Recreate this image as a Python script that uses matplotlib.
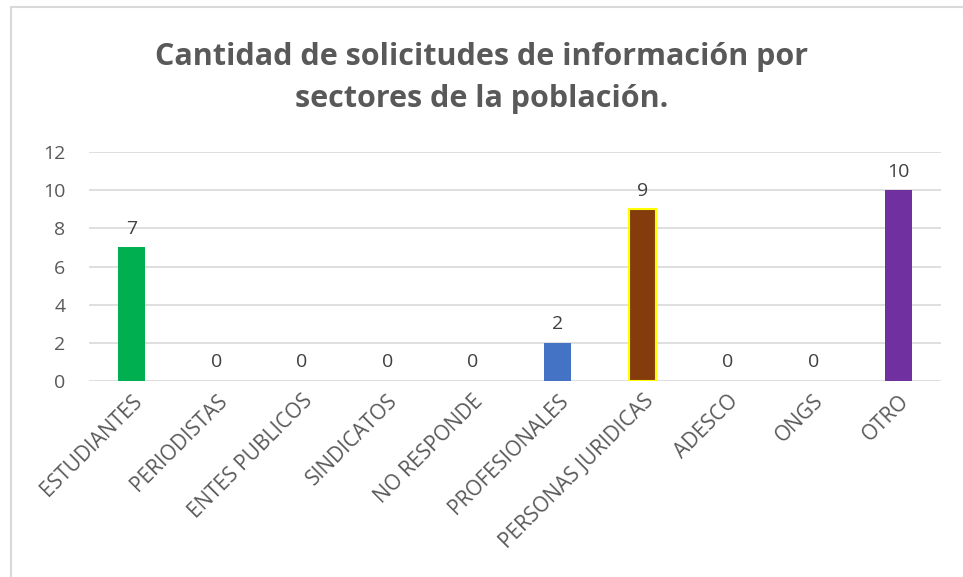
import matplotlib
matplotlib.use("Agg")
import matplotlib.pyplot as plt
from matplotlib.patches import Rectangle

plt.rcParams['font.family'] = ['Open Sans', 'DejaVu Sans']

categorias = ["ESTUDIANTES", "PERIODISTAS", "ENTES PUBLICOS", "SINDICATOS", "NO RESPONDE",
              "PROFESIONALES", "PERSONAS JURIDICAS", "ADESCO", "ONGS", "OTRO"]
solicitudes = [7, 0, 0, 0, 0, 2, 9, 0, 0, 10]
colores = ["#00B050", "#4472C4", "#4472C4", "#4472C4", "#4472C4",
           "#4472C4", "#843C0C", "#4472C4", "#4472C4", "#7030A0"]
bordes = ["none"] * 6 + ["#FFFF00"] + ["none"] * 3

W, H = 963, 577
fig = plt.figure(figsize=(W / 100, H / 100), dpi=100)
ax = fig.add_axes([89 / W, 1 - 381 / H, (941 - 89) / W, (381 - 152) / H])

x = range(len(categorias))
bars = ax.bar(x, solicitudes, width=0.32, color=colores, zorder=3)
for b, ec in zip(bars, bordes):
    if ec != "none":
        b.set_edgecolor(ec)
        b.set_linewidth(1.5)

for i, v in enumerate(solicitudes):
    ax.text(i, v + 0.5, str(v), ha="center", va="bottom", fontsize=14, color="#404040")

ax.set_xlim(-0.5, len(categorias) - 0.5)
ax.set_ylim(0, 12)
ax.set_yticks(range(0, 13, 2))
ax.yaxis.grid(True, color="#D9D9D9", linewidth=1.2, zorder=0)
ax.set_xticks(list(x))
ax.set_xticklabels(categorias, rotation=45, ha="right", rotation_mode="anchor",
                   fontsize=15, color="#595959")
ax.tick_params(axis="y", labelsize=14, labelcolor="#595959", length=0, pad=17)
ax.tick_params(axis="x", length=0, pad=7)
for s in ax.spines.values():
    s.set_visible(False)

fig.text(0.5, 1 - 78 / H, "Cantidad de solicitudes de información por\nsectores de la población.",
         ha="center", va="center", fontsize=22, fontweight="bold", color="#595959",
         linespacing=1.55)

# marco del grafico
fig.patches.append(Rectangle((11 / W, -0.1), 1.2, 1 - 7 / H + 0.1, transform=fig.transFigure,
                             fill=False, edgecolor="#D9D9D9", linewidth=1.5))

fig.savefig("out.png", dpi=100)
